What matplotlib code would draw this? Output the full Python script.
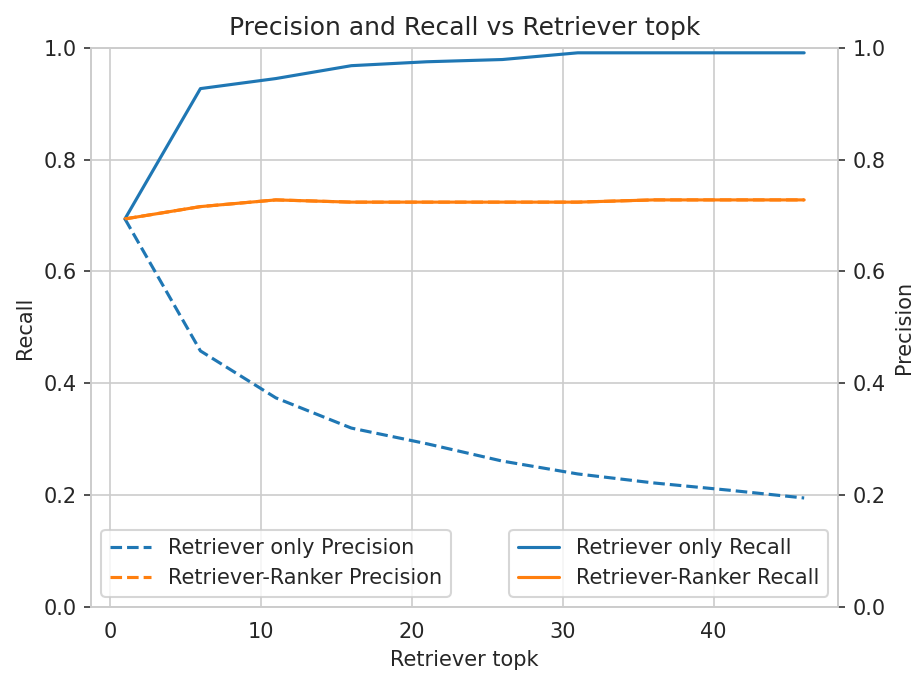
import matplotlib
matplotlib.use("Agg")
import matplotlib.pyplot as plt
import seaborn as sns

# retriever topk values
topk = [1, 6, 11, 16, 21, 26, 31, 36, 41, 46]

retriever_recall = [0.694, 0.927, 0.945, 0.968, 0.975, 0.979, 0.991, 0.991, 0.991, 0.991]
ranker_recall = [0.694, 0.716, 0.728, 0.724, 0.724, 0.724, 0.724, 0.728, 0.728, 0.728]
retriever_precision = [0.694, 0.458, 0.374, 0.320, 0.292, 0.261, 0.238, 0.222, 0.209, 0.195]
ranker_precision = [0.694, 0.716, 0.728, 0.724, 0.724, 0.724, 0.724, 0.728, 0.728, 0.728]

sns.set_style("whitegrid")

fig, ax = plt.subplots(figsize=(919/150, 673/150), dpi=150)
fig.subplots_adjust(left=0.099, right=0.912, top=0.929, bottom=0.098)

ax.plot(topk, retriever_recall, color="#1f77b4", label="Retriever only Recall")
ax.plot(topk, ranker_recall, color="#ff7f0e", label="Retriever-Ranker Recall")
ax.set_ylim(0, 1)
ax.set_ylabel("Recall")
ax.set_xlabel("Retriever topk")
ax.set_title("Precision and Recall vs Retriever topk")
ax.tick_params(axis="y", left=True, length=3.5, color="#333333")
ax.legend(loc="lower right")

ax2 = ax.twinx()
ax2.plot(topk, retriever_precision, color="#1f77b4", linestyle="--", label="Retriever only Precision")
ax2.plot(topk, ranker_precision, color="#ff7f0e", linestyle="--", label="Retriever-Ranker Precision")
ax2.set_ylim(0, 1)
ax2.set_ylabel("Precision")
ax2.grid(False)
ax2.tick_params(axis="y", right=True, length=3.5, color="#333333")
ax2.legend(loc="lower left")

plt.savefig("out.png", dpi=150)
